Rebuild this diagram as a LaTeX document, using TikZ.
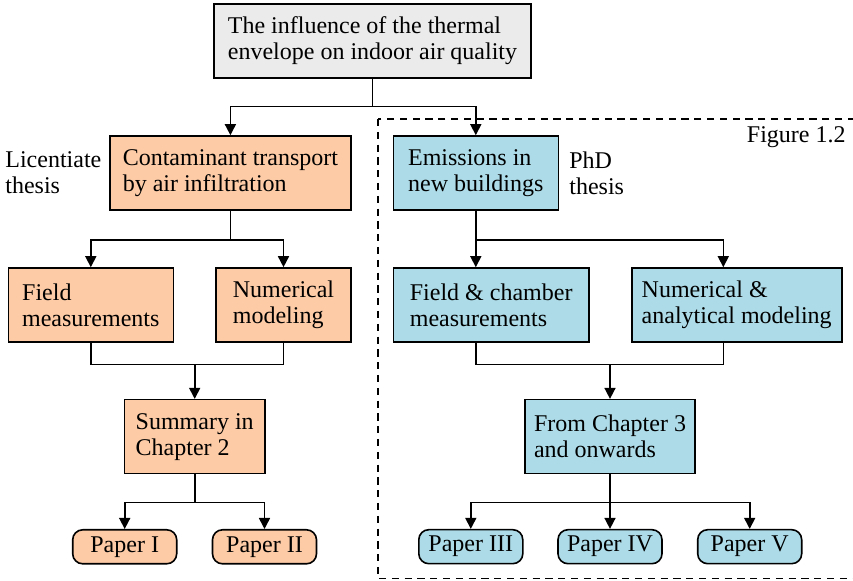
\documentclass[tikz,border=0pt]{standalone}
\usepackage{fontspec}
\setmainfont{Liberation Serif}
\usepackage{tikz}
\usetikzlibrary{arrows.meta,positioning,calc}
\definecolor{greybg}{HTML}{EBEBEB}
\definecolor{licol}{HTML}{FDCBA6}
\definecolor{phdcol}{HTML}{ADDCE8}

\begin{document}
\begin{tikzpicture}[x=0.5pt,y=-0.5pt,font=\fontsize{12}{13}\selectfont,
  box/.style={draw,line width=0.8pt,align=left,inner sep=0pt,minimum height=37pt},
  paper/.style={draw,line width=0.8pt,rounded corners=5pt,inner sep=0pt,
                minimum height=17pt,minimum width=52pt},
  lbl/.style={inner sep=0pt,align=left},
  link/.style={line width=0.8pt},
  arr/.style={line width=0.8pt,-{Triangle[length=5.5pt,width=5.5pt]}},
]
\useasboundingbox (0,0) rectangle (853,581);

% ---------- frame of the PhD part ----------
\draw[line width=0.9pt,dash pattern=on 3.6pt off 2.8pt]
  (377.7,119) rectangle (880,578.5);
\node[lbl,anchor=east] (fig) at (846,137) {Figure 1.2};

% ---------- TOP ----------
\node[box,fill=greybg,minimum width=158.5pt] (top) at (372.5,41)
  {The influence of the thermal\\envelope on indoor air quality};

% ---------- LEFT: licentiate ----------
\node[lbl,anchor=west] (lic) at (5,173) {Licentiate\\thesis};
\node[box,fill=licol,minimum width=120.5pt] (cont) at (230.4,173)
  {Contaminant transport\\by air infiltration};
\node[box,fill=licol,minimum width=82.5pt] (field) at (90.8,305)
  {Field\\measurements};
\node[box,fill=licol,minimum width=67.5pt] (nummod) at (283.5,305)
  {Numerical\\modeling};
\node[box,fill=licol,minimum width=70.3pt] (summ) at (194.7,436.7)
  {Summary in\\Chapter 2};
\node[paper,fill=licol] (p1) at (124.7,546.8) {Paper I};
\node[paper,fill=licol] (p2) at (264.5,546.8) {Paper II};

% ---------- RIGHT: PhD ----------
\node[lbl,anchor=west] (phd) at (569,173) {PhD\\thesis};
\node[box,fill=phdcol,minimum width=82.5pt] (emis) at (475.8,173)
  {Emissions in\\new buildings};
\node[box,fill=phdcol,minimum width=97.8pt] (fc) at (491.2,305)
  {Field \& chamber\\measurements};
\node[box,fill=phdcol,minimum width=105pt] (na) at (736.7,305)
  {Numerical \&\\analytical modeling};
\node[box,fill=phdcol,minimum width=85pt] (chap3) at (610,436.7)
  {From Chapter 3\\and onwards};
\node[paper,fill=phdcol] (p3) at (470.8,546.7) {Paper III};
\node[paper,fill=phdcol] (p4) at (610,546.7) {Paper IV};
\node[paper,fill=phdcol] (p5) at (749.7,546.7) {Paper V};

% ---------- connectors ----------
\coordinate (jtop) at (372.5,106.7);
\draw[link] (top) -- (jtop);
\draw[arr] (jtop) -| (cont);
\draw[arr] (jtop) -| (emis);

\coordinate (jcont) at (230.4,240);
\draw[link] (cont) -- (jcont);
\draw[arr] (jcont) -| (field);
\draw[arr] (jcont) -| (nummod);
\coordinate (jmeas) at (194.7,364.7);
\draw[link] (field) |- (jmeas) -| (nummod);
\draw[arr] (jmeas) -- (summ);
\coordinate (jsumm) at (194.7,502.7);
\draw[link] (summ) -- (jsumm);
\draw[arr] (jsumm) -| (p1);
\draw[arr] (jsumm) -| (p2);

\coordinate (jemis) at (475.8,240);
\coordinate (jna) at (723.3,240);
\draw[link] (emis) -- (jemis);
\draw[arr] (jemis) -- (jemis |- fc.north);
\draw[arr] (jemis) -- (jna) -- (jna |- na.north);
\coordinate (jfc) at (610,364.7);
\draw[link] (jemis |- fc.south) |- (jfc) -| (jna |- na.south);
\draw[arr] (jfc) -- (chap3);
\coordinate (jchap) at (610,502.7);
\draw[link] (chap3) -- (jchap);
\draw[arr] (jchap) -| (p3);
\draw[arr] (jchap) -- (p4);
\draw[arr] (jchap) -| (p5);
\end{tikzpicture}
\end{document}
